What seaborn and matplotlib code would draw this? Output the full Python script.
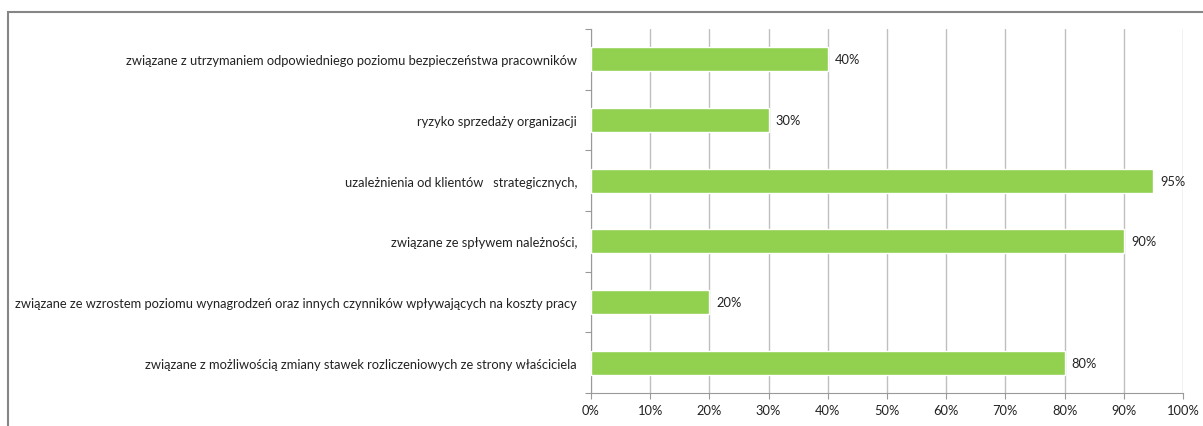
import matplotlib
matplotlib.use("Agg")
import matplotlib.pyplot as plt
import seaborn as sns
import pandas as pd
from matplotlib.patches import Rectangle
from matplotlib.ticker import FixedLocator

categories = [
    "związane z utrzymaniem odpowiedniego poziomu bezpieczeństwa pracowników",
    "ryzyko sprzedaży organizacji",
    "uzależnienia od klientów   strategicznych,",
    "związane ze spływem należności,",
    "związane ze wzrostem poziomu wynagrodzeń oraz innych czynników wpływających na koszty pracy",
    "związane z możliwością zmiany stawek rozliczeniowych ze strony właściciela",
]
values = [40, 30, 95, 90, 20, 80]
xticks = [0, 10, 20, 30, 40, 50, 60, 70, 80, 90, 100]
xticklabels = [f"{v}%" for v in xticks]

df = pd.DataFrame({"cat": categories, "val": values})

sns.set_theme(style="white")
plt.rcParams["font.family"] = ["Lato", "DejaVu Sans"]

FS = 9.3
W, H = 1203, 427
fig = plt.figure(figsize=(W / 100, H / 100), dpi=100)
ax = fig.add_axes([591 / W, 1 - 394 / H, (1183 - 591) / W, (394 - 30) / H])

sns.barplot(data=df, x="val", y="cat", orient="h", color="#92D050",
            width=0.4, saturation=1, ax=ax, zorder=3)

ax.set_xlim(0, 100)
ax.set_ylim(len(categories) - 0.5, -0.5)
ax.set_xticks(xticks)
ax.set_xticklabels(xticklabels, fontsize=FS, color="#222222")
ax.set_xlabel("")
ax.set_ylabel("")
ax.tick_params(axis="y", which="major", length=0, pad=10, labelsize=FS, labelcolor="#222222")
ax.yaxis.set_minor_locator(FixedLocator([i - 0.5 for i in range(len(categories) + 1)]))
ax.tick_params(axis="y", which="minor", length=4.5, width=0.8, color="#999999", left=True)
ax.tick_params(axis="x", which="major", length=4, width=0.8, color="#999999", bottom=True, pad=4)

ax.grid(axis="x", color="#BFBFBF", linewidth=1, zorder=0)
ax.set_axisbelow(True)
for s in ["top", "right"]:
    ax.spines[s].set_visible(False)
for s in ["left", "bottom"]:
    ax.spines[s].set_color("#999999")
    ax.spines[s].set_linewidth(0.8)

for i, v in enumerate(values):
    ax.text(v + 1.2, i, f"{v}%", va="center", ha="left", fontsize=FS, color="#222222")

border = Rectangle((8 / W, -0.1), 1.2, 1 - 13 / H + 0.1, transform=fig.transFigure,
                   fill=False, edgecolor="#868686", linewidth=1.5)
fig.patches.append(border)

fig.savefig("out.png", dpi=100, facecolor="white")
